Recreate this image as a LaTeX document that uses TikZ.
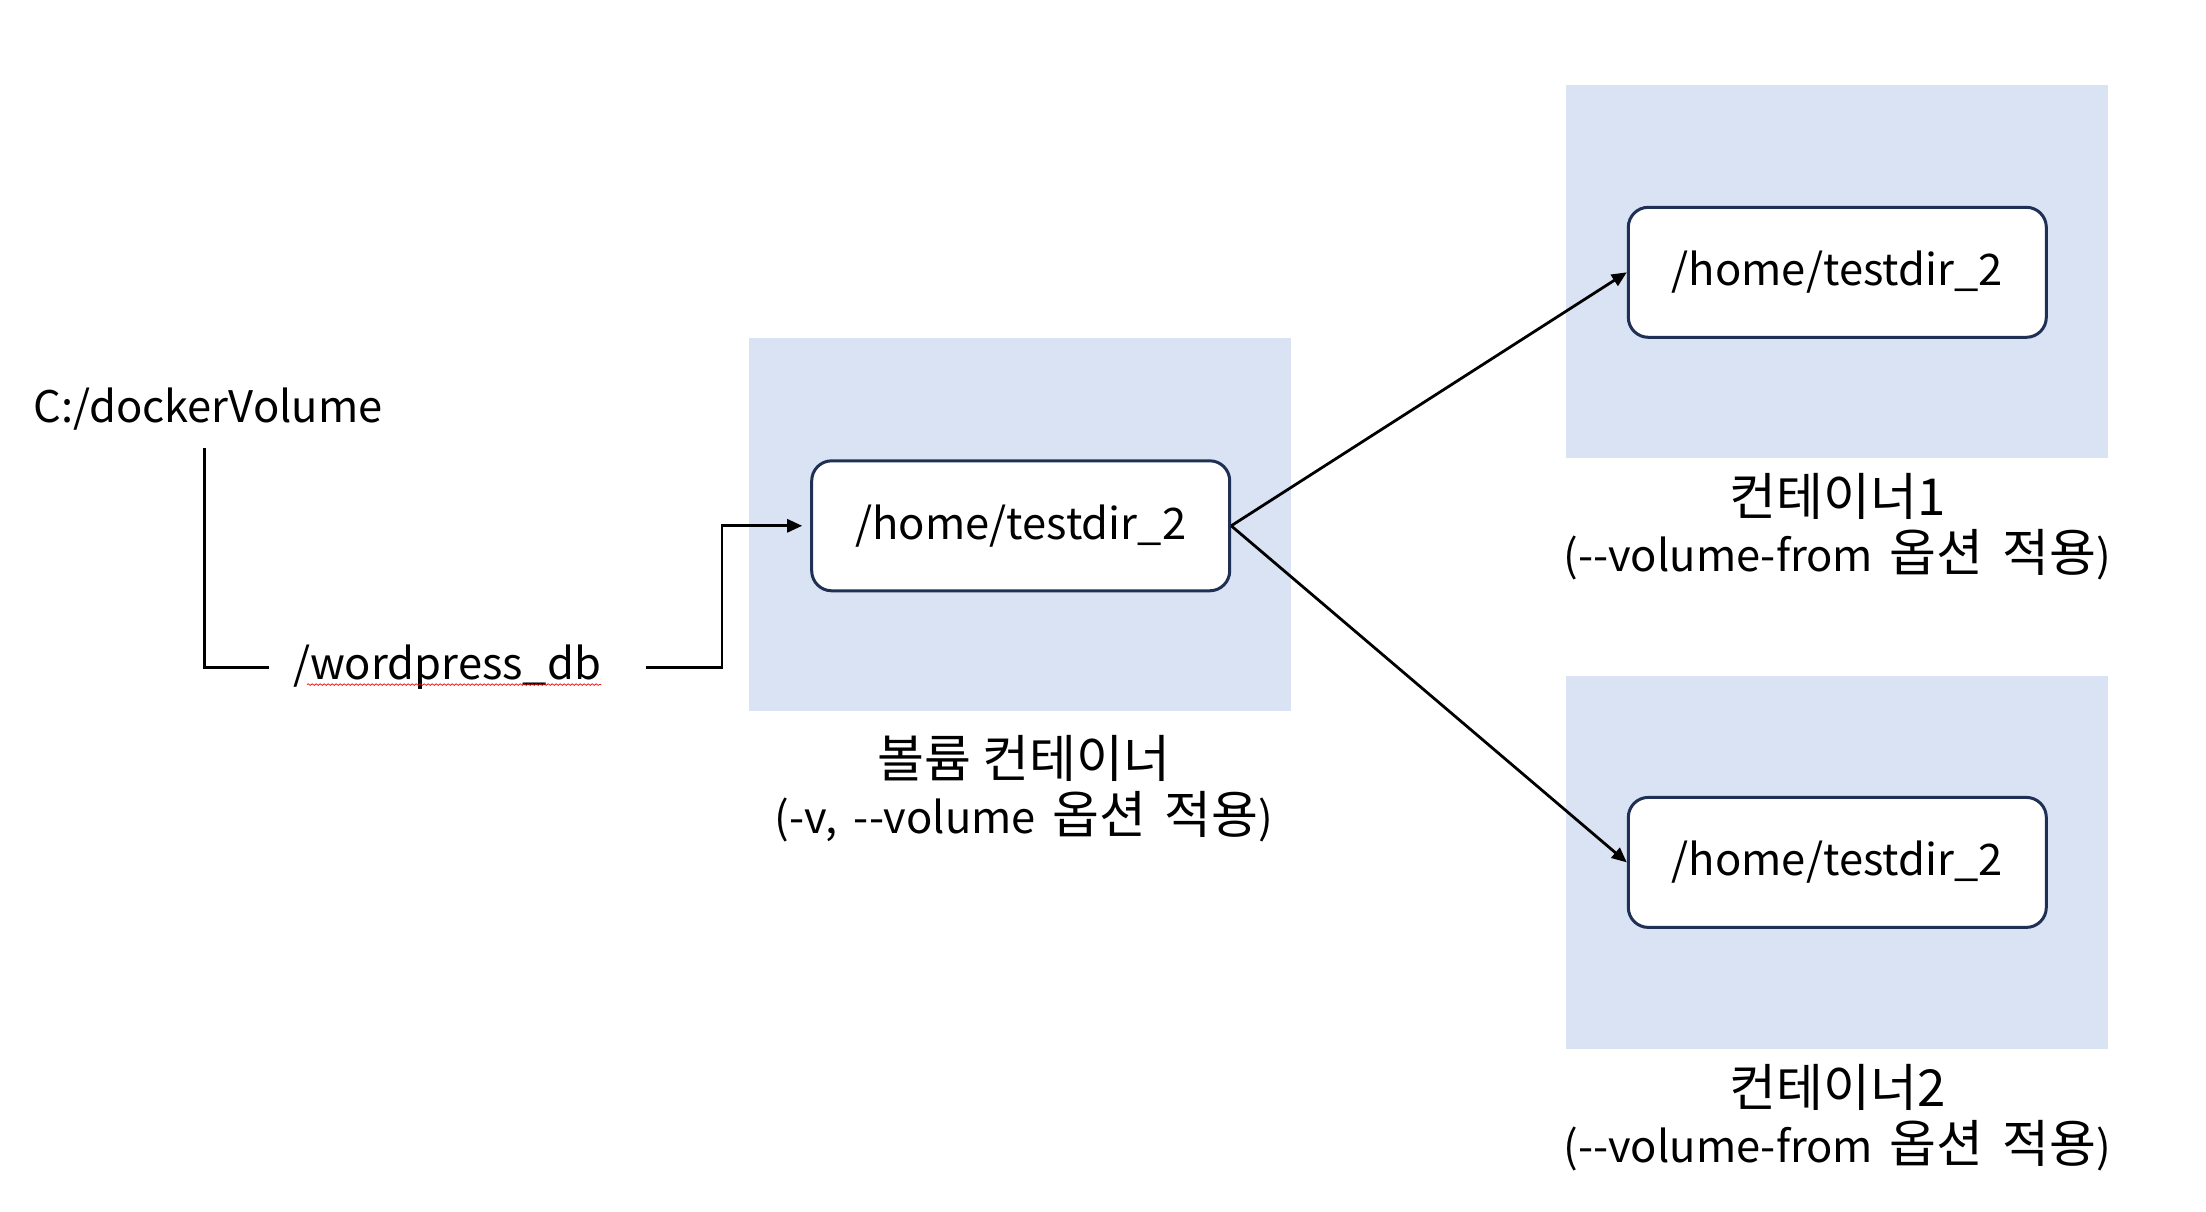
\documentclass[tikz,border=0pt]{standalone}
\usepackage{fontspec}
\newfontfamily\kr{Noto Sans CJK KR}
\usetikzlibrary{arrows.meta,decorations.pathmorphing}
\definecolor{shade}{RGB}{218,227,243}
\definecolor{navy}{RGB}{31,48,84}
\newcommand\KK[1]{{\fontsize{51}{56}\selectfont #1}}
\newcommand\WS{\ \hspace{7pt}}
\begin{document}
\begin{tikzpicture}[x=1pt,y=-1pt,
  every node/.style={font=\kr\fontsize{43.5}{56}\selectfont},
  panel/.style={fill=shade, draw=none, minimum width=542pt, minimum height=373pt, inner sep=0pt},
  dirbox/.style={draw=navy, line width=3pt, fill=white, rounded corners=20pt, minimum width=418pt, minimum height=130pt, inner sep=0pt},
  conn/.style={line width=2.8pt},
  arr/.style={conn, -{Triangle[length=15pt,width=13pt]}},
  lbl/.style={align=center, inner sep=0pt},
  plain/.style={inner sep=0pt}
]
\path[use as bounding box] (0,0) rectangle (2206,1212);
\fill[white] (0,0) rectangle (2206,1212);

\node[panel] (p0) at (1020.2,524.3) {};
\node[dirbox] (n0) at (1020.7,525.8) {/home/testdir\_2};
\node[lbl] (l0) at (1024,789) {\KK{볼륨 컨테이너}\\(-v,\WS{}-\kern0pt-volume\WS{}\KK{옵션\WS{}적용})};

\node[panel] (p1) at (1836.8,271.9) {};
\node[dirbox] (n1) at (1837.3,272.3) {/home/testdir\_2};
\node[lbl] (l1) at (1837.3,527) {\KK{컨테이너1}\\(-\kern0pt-volume-from\WS{}\KK{옵션\WS{}적용})};

\node[panel] (p2) at (1836.8,862.4) {};
\node[dirbox] (n2) at (1837.3,862.4) {/home/testdir\_2};
\node[lbl] (l2) at (1837.3,1118) {\KK{컨테이너2}\\(-\kern0pt-volume-from\WS{}\KK{옵션\WS{}적용})};

\node[plain] (dv) at (208.1,409.3) {C:/dockerVolume};
\node[plain] (wp) at (447.1,667.2) {/wordpress\_db};
\coordinate (dvb) at (204.1,448.1);
\coordinate (bend) at (722,667.2);

\draw[conn] (dvb) |- ([xshift=-24pt]wp.west);
\draw[arr, shorten >=8pt] ([xshift=45pt]wp.east) -- (bend) |- (n0.west);
\draw[arr] (n0.east) -- (n1.west);
\draw[arr] (n0.east) -- (n2.west);
\draw[red, line width=0.7pt, decorate, decoration={snake, segment length=4pt, amplitude=0.8pt}]
  ([xshift=14pt,yshift=-5pt]wp.base west) -- ([yshift=-5pt]wp.base east);
\end{tikzpicture}
\end{document}
